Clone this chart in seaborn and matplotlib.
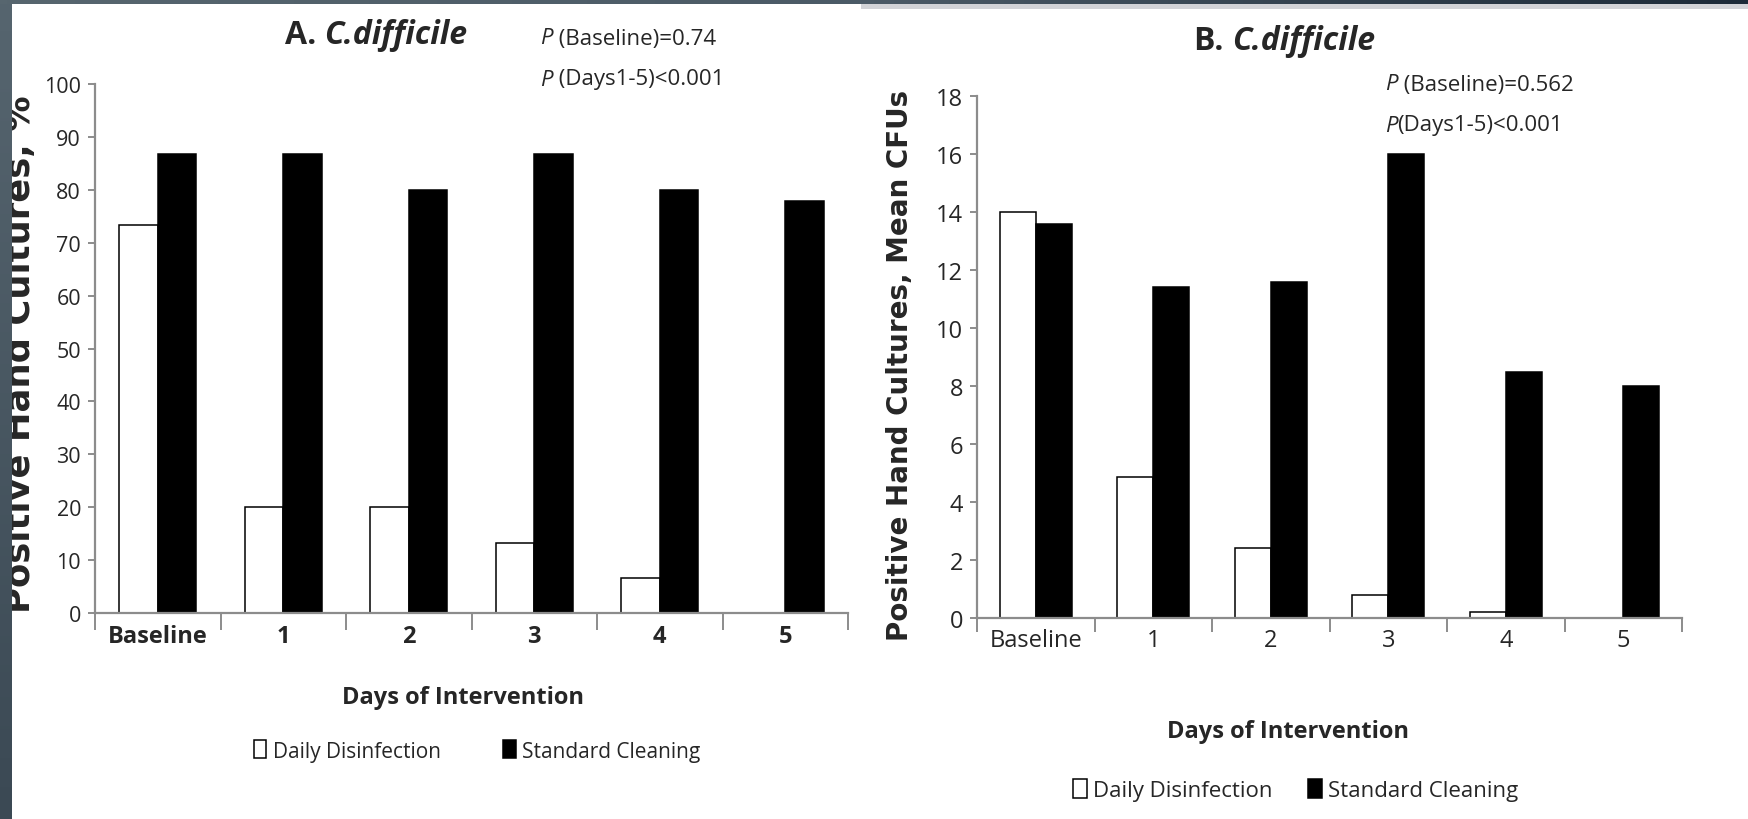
import numpy as np
import pandas as pd
import matplotlib.pyplot as plt
import seaborn as sns
from matplotlib.colors import LinearSegmentedColormap
from matplotlib.patches import Rectangle
from matplotlib.offsetbox import TextArea, HPacker, AnnotationBbox

# data
days = ['Baseline', '1', '2', '3', '4', '5']
groups = ['Daily Disinfection', 'Standard Cleaning']
pct_daily = [73.3, 20.0, 20.0, 13.3, 6.7, 0.0]
pct_standard = [86.7, 86.7, 80.0, 86.7, 80.0, 77.8]
cfu_daily = [14.0, 4.85, 2.43, 0.8, 0.22, 0.0]
cfu_standard = [13.6, 11.4, 11.6, 16.0, 8.5, 8.0]

W, H = 1748, 820

sns.set_theme(style='white')
plt.rcParams['font.family'] = ['Open Sans', 'DejaVu Sans']


def long_df(daily, standard):
    return pd.DataFrame({
        'day': days * 2,
        'group': [groups[0]] * len(days) + [groups[1]] * len(days),
        'value': list(daily) + list(standard),
    })


def fx(px):
    return px / W


def fy(py):
    return 1 - py / H


fig = plt.figure(figsize=(W / 100, H / 100), dpi=100)
fig.patch.set_facecolor('white')

palette = {groups[0]: 'white', groups[1]: 'black'}
spine_col = '#8c8c8c'


def panel(rect, daily, standard, ymax, ystep, bold_ticks, tick_fs, ytick_fs, xtick_len, xpad):
    ax = fig.add_axes(rect)
    sns.barplot(data=long_df(daily, standard), x='day', y='value', hue='group',
                palette=palette, width=0.61, edgecolor='black', linewidth=1.1,
                saturation=1, ax=ax)
    ax.set_xlim(-0.5, 5.5)
    ax.set_ylim(0, ymax)
    ax.set_yticks(np.arange(0, ymax + 0.01, ystep))
    ax.set_xticks(range(6))
    ax.set_xticks(np.arange(-0.5, 6, 1), minor=True)
    ax.set_xticklabels(days, fontsize=tick_fs, fontweight='bold' if bold_ticks else 'normal')
    ax.tick_params(axis='x', which='major', length=0, pad=xpad)
    ax.tick_params(axis='x', which='minor', length=xtick_len, width=1.4,
                   color=spine_col, direction='out', bottom=True)
    ax.tick_params(axis='y', length=5, width=1.4, color=spine_col, direction='out',
                   left=True, pad=5, labelsize=ytick_fs)
    for s in ['top', 'right']:
        ax.spines[s].set_visible(False)
    for s in ['left', 'bottom']:
        ax.spines[s].set_color(spine_col)
        ax.spines[s].set_linewidth(1.6)
    ax.set_ylabel('')
    ax.set_xlabel('Days of Intervention', fontsize=17, fontweight='bold')
    ax.xaxis.label.set_va('center')
    return ax


def mixed_text(parts, x, y, size, align):
    # parts: list of (string, weight, style), packed on a common baseline
    areas = [TextArea(s, textprops=dict(fontsize=size, fontweight=w, style=st))
             for s, w, st in parts]
    box = HPacker(children=areas, align='baseline', pad=0, sep=0)
    fig.add_artist(AnnotationBbox(box, (fx(x), fy(y)), xycoords='figure fraction',
                                  frameon=False, box_alignment=align, pad=0))


# panel A
axA = panel([fx(95), fy(614), fx(753), (614 - 85) / H], pct_daily, pct_standard,
            100, 10, True, 17, 15.5, 12, 8)
axA.xaxis.set_label_coords((463 - 95) / 753, -(698 - 614) / 529)
sns.move_legend(axA, loc='center', bbox_to_anchor=((477 - 95) / 753, -(752 - 614) / 529),
                ncol=2, frameon=False, title=None, fontsize=15, handlelength=0.6,
                handleheight=0.95, handletextpad=0.3, columnspacing=3.0)

# panel B
axB = panel([fx(977), fy(619), fx(705), (619 - 97) / H], cfu_daily, cfu_standard,
            18, 2, False, 17, 17, 10, 7)
axB.xaxis.set_label_coords((1288 - 977) / 705, -(732 - 619) / 522)
sns.move_legend(axB, loc='center', bbox_to_anchor=((1296 - 977) / 705, -(791 - 619) / 522),
                ncol=2, frameon=False, title=None, fontsize=16, handlelength=0.6,
                handleheight=0.9, handletextpad=0.3, columnspacing=1.6)

# titles and p-values
mixed_text([('A. ', 'bold', 'normal'), ('C.difficile', 'bold', 'italic')],
           376, 36, 23, (0.5, 0.5))
mixed_text([('B. ', 'bold', 'normal'), ('C.difficile', 'bold', 'italic')],
           1285, 42, 23, (0.5, 0.5))
mixed_text([('P', 'normal', 'italic'), (' (Baseline)=0.74', 'normal', 'normal')],
           540, 39, 16, (0, 0.5))
mixed_text([('P', 'normal', 'italic'), (' (Days1-5)<0.001', 'normal', 'normal')],
           540, 80, 16, (0, 0.5))
mixed_text([('P', 'normal', 'italic'), (' (Baseline)=0.562', 'normal', 'normal')],
           1385, 85, 16, (0, 0.5))
mixed_text([('P', 'normal', 'italic'), ('(Days1-5)<0.001', 'normal', 'normal')],
           1385, 126, 16, (0, 0.5))

# y labels (left one runs under the slide border)
fig.text(fx(30), fy(354), 'Positive Hand Cultures, %', family='DejaVu Sans',
         fontweight='bold', fontsize=25.5, rotation=90, rotation_mode='anchor',
         ha='center', va='baseline')
fig.text(fx(908), fy(365), 'Positive Hand Cultures, Mean CFUs', family='DejaVu Sans',
         fontweight='bold', fontsize=20, rotation=90, rotation_mode='anchor',
         ha='center', va='baseline')

# slide frame
side = fig.add_axes([0, 0, fx(12), 1], zorder=10)
side.imshow(np.linspace(0, 1, 256).reshape(-1, 1), aspect='auto',
            cmap=LinearSegmentedColormap.from_list('side', ['#56656f', '#3b4954']),
            extent=(0, 1, 0, 1))
side.axis('off')
top = fig.add_axes([0, fy(5), 1, 5 / H], zorder=10)
top.imshow(np.linspace(0, 1, 256).reshape(1, -1), aspect='auto',
           cmap=LinearSegmentedColormap.from_list('top', ['#57666f', '#4b5a66', '#1d2b39']),
           extent=(0, 1, 0, 1))
top.axis('off')
fig.add_artist(Rectangle((fx(861), fy(10)), 1 - fx(861), 5 / H, transform=fig.transFigure,
                         facecolor='#d2d3d7', edgecolor='none', zorder=9))

fig.savefig('out.png', dpi=100)
